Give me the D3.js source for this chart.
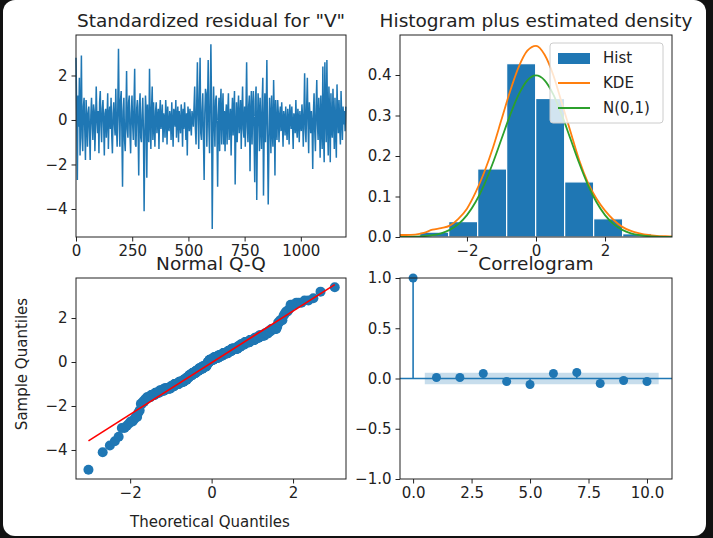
<!DOCTYPE html>
<html><head><meta charset="utf-8">
<script src="https://cdn.jsdelivr.net/npm/d3@7"></script>
<style>body{margin:0;background:#111;}svg{display:block;font-family:"DejaVu Sans",sans-serif;}</style>
</head><body>
<script>
// standardized residuals (coarse)
var resid = [2.8,0.4,-2.7,1.1,-0.3,1.9,-1.6,0.2,2.9,-0.8,-1.4,0.6,1.0,-0.4,-1.8,0.9,0.1,
 -1.2,0.3,0.6,-0.5,-1.8,0.2,1.0,-0.1,-0.9,0.7,0.4,-1.4,-0.2,1.5,0.1,-0.6,0.4,-1.5,0.8,1.3,-0.3,-1.0,0.5,0.9,-0.2,-1.6,0.3,0.5,-0.8,0.0,1.2,-1.3,0.2,0.6,-0.4,1.0,-0.7,-1.5,0.3,0.8,-0.2,-0.7,
 1.4,-0.3,-1.2,0.6,3.2,0.2,-1.2,0.9,1.3,-0.5,-3.0,0.4,1.0,-0.9,-1.4,0.1,2.2,-0.4,-0.8,0.8,1.1,-0.6,-1.5,0.3,1.1,-0.2,-0.9,0.7,2.3,-1.1,-1.2,0.5,0.9,-0.3,-2.5,0.6,1.2,-0.8,-1.0,0.2,1.0,-0.5,-4.1,-0.9,1.1,0.4,-2.6,0.7,-0.7,-1.0,2.3,0.1,
 -1.3,0.5,1.5,-0.9,0.8,-0.2,-1.2,0.4,0.8,-0.6,0.1,0.5,-1.3,0.2,0.9,-0.4,-0.1,0.7,-1.0,0.3,0.0,-0.8,0.9,0.2,-1.1,0.6,-0.3,-0.5,0.4,0.1,-0.9,0.8,-0.2,-1.2,0.5,0.3,-0.3,0.9,-0.8,0.1,0.6,-1.0,0.4,-0.1,-0.6,0.7,0.2,-1.2,0.5,-0.4,0.8,0.0,-0.9,0.3,-1.6,0.6,0.2,-0.5,0.5,-0.2,-0.7,0.4,0.1,-0.3,0.6,
 1.5,-0.4,-1.1,0.7,2.6,0.2,-1.3,1.0,2.8,-0.6,-0.9,0.4,1.2,-0.9,-2.7,0.3,1.4,1.2,-1.2,0.5,2.7,-0.3,-1.5,0.8,3.4,0.6,-4.9,-1.0,1.5,0.1,-1.2,0.9,1.1,-0.5,-3.0,0.2,1.0,-1.4,0.6,1.4,-1.1,0.3,1.2,-1.1,0.4,
 -1.4,0.2,0.7,-1.1,0.3,1.2,-0.9,-0.2,0.5,-1.6,0.1,1.0,-0.7,0.4,1.3,-2.9,-0.5,0.8,-1.0,0.2,1.1,-0.6,0.0,0.9,-1.3,0.3,1.5,-0.4,-0.8,0.6,
 -1.2,0.4,2.6,-0.3,-1.0,0.6,1.1,-2.3,0.2,1.3,-1.1,0.5,1.3,-0.7,-2.8,0.9,1.5,-3.6,-0.4,1.2,0.3,-1.4,1.0,-0.2,-1.3,0.8,1.9,-3.4,-0.6,1.2,-1.0,0.4,2.7,-0.8,-3.8,-1.2,1.0,0.1,-1.5,1.1,-0.5,-1.2,1.8,0.2,-2.5,0.9,-0.3,-0.9,0.9,0.3,
 -1.0,0.2,0.6,-0.5,0.8,-0.1,-1.2,0.4,0.1,-0.7,0.6,-0.3,-0.9,0.5,0.0,-1.1,0.7,0.2,-0.4,0.6,-0.2,-1.3,0.3,0.1,-0.6,0.9,-0.3,-0.8,0.5,0.0,-1.0,0.4,-0.2,-0.5,0.7,0.1,-1.2,0.3,2.1,-0.4,-1.0,0.6,1.9,-0.2,-1.5,0.8,0.2,-0.6,0.4,-0.1,
 -2.2,0.3,1.2,-0.5,-1.4,0.6,1.8,-0.2,-0.9,1.0,0.1,-1.7,1.1,-0.3,-1.3,2.4,-0.6,-1.9,2.6,0.4,-1.0,2.7,-0.2,-1.6,1.5,0.3,-1.9,1.2,-0.4,-0.8,1.4,0.0,-1.3,1.0,-0.5,-1.7,1.6,0.2,-0.6,0.9,-0.3,-1.1,1.3,0.1,-0.9,0.6,-0.2,0.4,-0.5,0.6];
var nObs = 1201;

// histogram
var binEdges = [-3.37,-2.53,-1.69,-0.85,-0.01,0.83,1.67,2.51,3.35];
var binHeights = [0.012,0.038,0.168,0.428,0.342,0.136,0.045,0.008];

// density curves
var gridX = d3.range(-4, 4.001, 0.25);
var kde = [0.005,0.005,0.006,0.010,0.018,0.022,0.028,0.045,0.070,0.110,0.160,0.220,0.290,0.360,0.420,0.460,0.472,
 0.450,0.400,0.330,0.260,0.190,0.135,0.095,0.065,0.042,0.025,0.015,0.009,0.005,0.003,0.002,0.001];
var normHalf = [0.0001,0.0004,0.0009,0.0020,0.0044,0.0091,0.0175,0.0317,0.0540,0.0863,0.1295,0.1826,0.2420,0.3011,0.3521,0.3867,0.3989];
var normPdf = normHalf.concat(normHalf.slice(0, 16).reverse());

// correlogram
var lags = [0,1,2,3,4,5,6,7,8,9,10];
var acf = [1,0.01,0.01,0.05,-0.03,-0.06,0.05,0.06,-0.05,-0.02,-0.03];
var confBand = 0.057;

var blue = "#1f77b4", orange = "#ff7f0e", green = "#2ca02c";
var W = 713, H = 538;
var TICK = 15, TITLE = 18.5, LABEL = 15;
var svg = d3.select("body").append("svg").attr("width", W).attr("height", H);
svg.append("rect").attr("x", 3).attr("y", 0).attr("width", 703).attr("height", 536).attr("rx", 12).attr("fill", "#fff");

function panel(x0, x1, y0, y1, xd, yd, title, xticks, yticks, xfmt, yfmt) {
  var x = d3.scaleLinear().domain(xd).range([x0, x1]);
  var y = d3.scaleLinear().domain(yd).range([y1, y0]);
  var g = svg.append("g");
  var plot = g.append("g");
  var ax = g.append("g");
  ax.append("g").attr("transform", "translate(0," + y1 + ")")
    .call(d3.axisBottom(x).tickValues(xticks).tickFormat(xfmt).tickSize(4.5).tickPadding(4).tickSizeOuter(0));
  ax.append("g").attr("transform", "translate(" + x0 + ",0)")
    .call(d3.axisLeft(y).tickValues(yticks).tickFormat(yfmt).tickSize(4.5).tickPadding(4).tickSizeOuter(0));
  ax.selectAll(".domain").remove();
  ax.selectAll("g").attr("font-size", TICK).attr("font-family", "DejaVu Sans");
  ax.selectAll(".tick text").style("font-size", TICK + "px").attr("fill", "#222");
  ax.selectAll(".tick line").attr("stroke", "#222");
  g.append("rect").attr("x", x0).attr("y", y0).attr("width", x1 - x0).attr("height", y1 - y0)
    .attr("fill", "none").attr("stroke", "#222").attr("stroke-width", 1);
  g.append("text").attr("x", (x0 + x1) / 2).attr("y", y0 - 8).attr("text-anchor", "middle")
    .style("font-size", TITLE + "px").attr("fill", "#222").text(title);
  return {x: x, y: y, g: plot, gg: g};
}
var mfmt = function(d){ return d3.format("")(d).replace("-", "\u2212"); };
var f1 = function(d){ return d.toFixed(1).replace("-", "\u2212"); };

function clip(id, x0, y0, w, h) {
  svg.append("clipPath").attr("id", id).append("rect").attr("x", x0).attr("y", y0).attr("width", w).attr("height", h);
  return "url(#" + id + ")";
}

// 1. residuals
var p1 = panel(76, 346, 35, 237, [0, 1201], [-5.26, 3.82], 'Standardized residual for "V"',
  [0, 250, 500, 750, 1000], [-4, -2, 0, 2], mfmt, mfmt);
var ix = d3.scaleLinear().domain([0, resid.length - 1]).range([0, nObs - 1]);
p1.g.append("path").datum(resid).attr("fill", "none").attr("stroke", blue).attr("stroke-width", 1.5)
  .attr("d", d3.line().x(function(d, i){ return p1.x(ix(i)); }).y(function(d){ return p1.y(d); }));

// 2. histogram
var p2 = panel(400, 672, 35, 237, [-3.94, 3.94], [0, 0.4988], "Histogram plus estimated density",
  [-2, 0, 2], [0, 0.1, 0.2, 0.3, 0.4], mfmt, f1);
p2.g.selectAll("rect").data(binHeights).enter().append("rect")
  .attr("x", function(d, i){ return p2.x(binEdges[i]); })
  .attr("width", function(d, i){ return p2.x(binEdges[i + 1]) - p2.x(binEdges[i]); })
  .attr("y", function(d){ return p2.y(d); })
  .attr("height", function(d){ return p2.y(0) - p2.y(d); })
  .attr("fill", blue).attr("stroke", "#fff").attr("stroke-width", 1.2);
var cl2 = clip("c2", 400, 35, 272, 202);
var dl = d3.line().x(function(d, i){ return p2.x(gridX[i]); }).y(function(d){ return p2.y(d); }).curve(d3.curveMonotoneX);
p2.g.append("path").datum(kde).attr("clip-path", cl2).attr("fill", "none").attr("stroke", orange).attr("stroke-width", 1.8).attr("d", dl);
p2.g.append("path").datum(normPdf).attr("clip-path", cl2).attr("fill", "none").attr("stroke", green).attr("stroke-width", 1.8).attr("d", dl);
var lg = p2.gg.append("g");
lg.append("rect").attr("x", 550).attr("y", 43).attr("width", 113).attr("height", 80).attr("rx", 3)
  .attr("fill", "#fff").attr("fill-opacity", 0.8).attr("stroke", "#ccc");
[["Hist", blue], ["KDE", orange], ["N(0,1)", green]].forEach(function(e, i){
  var yy = 58 + i * 25;
  if (i === 0) lg.append("rect").attr("x", 558).attr("y", yy - 5).attr("width", 32).attr("height", 11).attr("fill", e[1]);
  else lg.append("line").attr("x1", 558).attr("x2", 590).attr("y1", yy).attr("y2", yy).attr("stroke", e[1]).attr("stroke-width", 2);
  lg.append("text").attr("x", 603).attr("y", yy + 5).style("font-size", TICK + "px").attr("fill", "#222").text(e[0]);
});

// 3. Q-Q
var p3 = panel(76, 346, 278, 479, [-3.33, 3.30], [-5.32, 3.82], "Normal Q-Q",
  [-2, 0, 2], [-4, -2, 0, 2], mfmt, mfmt);
function probit(p) { // Acklam's approximation
  var a=[-39.69683028665376,220.9460984245205,-275.9285104469687,138.3577518672690,-30.66479806614716,2.506628277459239],
      b=[-54.47609879822406,161.5858368580409,-155.6989798598866,66.80131188771972,-13.28068155288572],
      c=[-0.007784894002430293,-0.3223964580411365,-2.400758277161838,-2.549732539343734,4.374664141464968,2.938163982698783],
      d=[0.007784695709041462,0.3224671290700398,2.445134137142996,3.754408661907416];
  var q, r;
  if (p < 0.02425) { q = Math.sqrt(-2*Math.log(p)); return (((((c[0]*q+c[1])*q+c[2])*q+c[3])*q+c[4])*q+c[5])/((((d[0]*q+d[1])*q+d[2])*q+d[3])*q+1); }
  if (p > 1-0.02425) { q = Math.sqrt(-2*Math.log(1-p)); return -(((((c[0]*q+c[1])*q+c[2])*q+c[3])*q+c[4])*q+c[5])/((((d[0]*q+d[1])*q+d[2])*q+d[3])*q+1); }
  q = p - 0.5; r = q*q;
  return (((((a[0]*r+a[1])*r+a[2])*r+a[3])*r+a[4])*r+a[5])*q/(((((b[0]*r+b[1])*r+b[2])*r+b[3])*r+b[4])*r+1);
}
var sorted = resid.slice().sort(d3.ascending);
var qq = sorted.map(function(v, i){ return [probit((ix(i) + 1.5) / (nObs + 2)), v]; });
var cl3 = clip("c3", 76, 278, 270, 201);
p3.g.append("g").attr("clip-path", cl3).selectAll("circle").data(qq).enter().append("circle")
  .attr("cx", function(d){ return p3.x(d[0]); }).attr("cy", function(d){ return p3.y(d[1]); })
  .attr("r", 5).attr("fill", blue);
var mu = d3.mean(resid), sd = d3.deviation(resid);
var qEnds = [qq[0][0], qq[qq.length - 1][0]];
p3.g.append("line").attr("x1", p3.x(qEnds[0])).attr("y1", p3.y(mu + sd * qEnds[0]))
  .attr("x2", p3.x(qEnds[1])).attr("y2", p3.y(mu + sd * qEnds[1]))
  .attr("stroke", "red").attr("stroke-width", 1.6);
p3.gg.append("text").attr("x", 210).attr("y", 527).attr("text-anchor", "middle").style("font-size", LABEL + "px").attr("fill", "#222").text("Theoretical Quantiles");
p3.gg.append("text").attr("transform", "translate(27,364) rotate(-90)").attr("text-anchor", "middle").style("font-size", LABEL + "px").attr("fill", "#222").text("Sample Quantiles");

// 4. correlogram
var p4 = panel(400, 672, 278, 479, [-0.56, 11.07], [-1, 1], "Correlogram",
  [0, 2.5, 5, 7.5, 10], [-1, -0.5, 0, 0.5, 1], f1, f1);
p4.g.append("rect").attr("x", p4.x(0.5)).attr("width", p4.x(10.5) - p4.x(0.5))
  .attr("y", p4.y(confBand)).attr("height", p4.y(-confBand) - p4.y(confBand)).attr("fill", blue).attr("fill-opacity", 0.25);
p4.g.append("line").attr("x1", 400).attr("x2", 672).attr("y1", p4.y(0)).attr("y2", p4.y(0)).attr("stroke", blue).attr("stroke-width", 1.6);
p4.g.selectAll(".stem").data(acf).enter().append("line").attr("class", "stem")
  .attr("x1", function(d, i){ return p4.x(lags[i]); }).attr("x2", function(d, i){ return p4.x(lags[i]); })
  .attr("y1", p4.y(0)).attr("y2", function(d){ return p4.y(d); }).attr("stroke", blue).attr("stroke-width", 1.6);
p4.g.selectAll("circle").data(acf).enter().append("circle")
  .attr("cx", function(d, i){ return p4.x(lags[i]); }).attr("cy", function(d){ return p4.y(d); })
  .attr("r", 4.5).attr("fill", blue);
</script>
</body></html>
